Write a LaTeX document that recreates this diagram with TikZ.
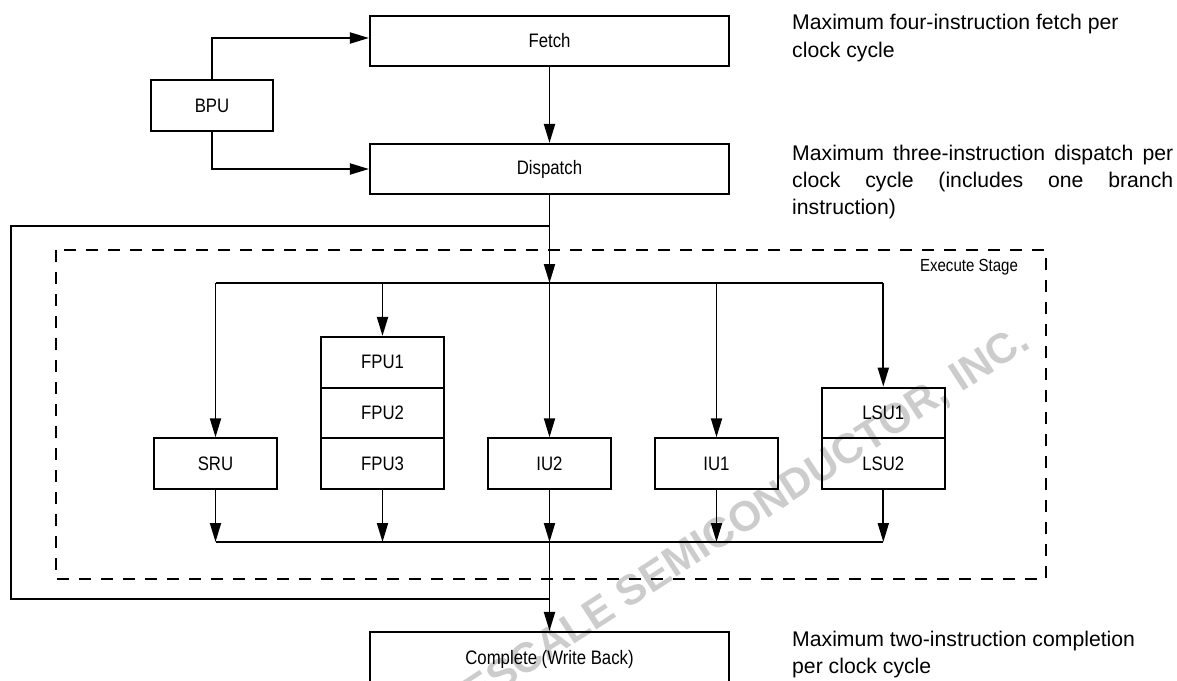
\documentclass[tikz,border=0pt]{standalone}
\usepackage{fontspec}
\setmainfont{Liberation Sans}
\newfontfamily\narrowfont[FakeStretch=0.86]{Liberation Sans}
\usetikzlibrary{arrows.meta}
\newcommand{\lblfont}{\narrowfont\fontsize{19.5pt}{23pt}\selectfont}
\newcommand{\stagefont}{\narrowfont\fontsize{17.5pt}{21pt}\selectfont}
\newcommand{\notefont}{\fontsize{21.2pt}{27pt}\selectfont}
\newcommand{\wmarkfont}{\bfseries\fontsize{42pt}{50pt}\selectfont}
\begin{document}
\begin{tikzpicture}[x=1pt,y=-1pt,
  unitbox/.style={draw, line width=2.1pt, minimum width=122.5pt, minimum height=50.7pt, inner sep=0pt, font=\lblfont},
  widebox/.style={draw, line width=2.1pt, minimum width=359pt, minimum height=50pt, inner sep=0pt, font=\lblfont},
  wire/.style={line width=1.9pt, line join=miter},
  arr/.style={wire, -{Triangle[length=19pt,width=11pt]}},
  stageframe/.style={dashed, line width=1.6pt, dash pattern=on 12pt off 10pt},
  note/.style={anchor=base west, inner sep=0pt, font=\notefont},
  wmark/.style={rotate=33, text=black!20, font=\wmarkfont, inner sep=0pt}
]
\useasboundingbox (0,0) rectangle (1177,680);
\fill[white] (0,0) rectangle (1177,680);

% watermark
\node[wmark] (wm) at (712,541) {FREESCALE SEMICONDUCTOR, INC.};

% execute stage frame
\draw[stageframe] (56,250) rectangle (1046,579);
\node[font=\stagefont, inner sep=0pt] (stage) at (969,267) {Execute Stage};

% main boxes
\node[widebox] (fetch) at (549.5,41) {Fetch};
\node[widebox] (dispatch) at (549.5,169) {Dispatch};
\node[draw, line width=2.1pt, minimum width=122pt, minimum height=51pt, inner sep=0pt, font=\lblfont] (bpu) at (212,105.5) {BPU};
\node[widebox, minimum height=54pt] (complete) at (549.5,659) {Complete (Write Back)};

% execution units
\node[unitbox] (sru) at (215.5,463.7) {SRU};
\node[unitbox] (fpu1) at (382.5,362.3) {FPU1};
\node[unitbox] (fpu2) at (382.5,413) {FPU2};
\node[unitbox] (fpu3) at (382.5,463.7) {FPU3};
\node[unitbox] (iu2) at (549.5,463.7) {IU2};
\node[unitbox] (iu1) at (716.5,463.7) {IU1};
\node[unitbox] (lsu1) at (883.3,413) {LSU1};
\node[unitbox] (lsu2) at (883.3,463.7) {LSU2};

% coordinates
\coordinate (bt) at (549.5,283);
\coordinate (bb) at (549.5,542);
\coordinate (lj) at (549.5,226);
\coordinate (lb) at (549.5,599);
\coordinate (lc) at (11,599);

% BPU connections
\draw[arr] (bpu.north) |- ([yshift=3pt]fetch.west);
\draw[arr] (bpu.south) |- (dispatch.west);

% fetch to dispatch
\draw[arr] (fetch.south) -- (dispatch.north);

% dispatch to execute bus
\draw[arr] (dispatch.south) -- (bt);
\draw[wire] (bt -| sru) -- (bt -| lsu1);
\draw[arr] (bt -| sru) -- (sru.north);
\draw[arr] (bt -| fpu1) -- (fpu1.north);
\draw[arr] (bt) -- (iu2.north);
\draw[arr] (bt -| iu1) -- (iu1.north);
\draw[arr] (bt -| lsu1) -- (lsu1.north);

% outputs to bottom bus
\draw[arr] (sru.south) -- (sru |- bb);
\draw[arr] (fpu3.south) -- (fpu3 |- bb);
\draw[arr] (iu2.south) -- (bb);
\draw[arr] (iu1.south) -- (iu1 |- bb);
\draw[arr] (lsu2.south) -- (lsu2 |- bb);
\draw[wire] (sru |- bb) -- (lsu2 |- bb);
\draw[arr] (bb) -- (complete.north);

% bypass loop
\draw[wire] (lj) -| (lc) -- (lb);

% annotations
\node[note] (n1a) at (792,29) {Maximum four-instruction fetch per};
\node[note] (n1b) at (792,57) {clock cycle};
\node[note] (n2a) at (792,160) {\makebox[381pt][s]{Maximum three-instruction dispatch per}};
\node[note] (n2b) at (792,187) {\makebox[381pt][s]{clock cycle (includes one branch}};
\node[note] (n2c) at (792,214) {instruction)};
\node[note] (n3a) at (792,646) {Maximum two-instruction completion};
\node[note] (n3b) at (792,673) {per clock cycle};
\end{tikzpicture}
\end{document}
